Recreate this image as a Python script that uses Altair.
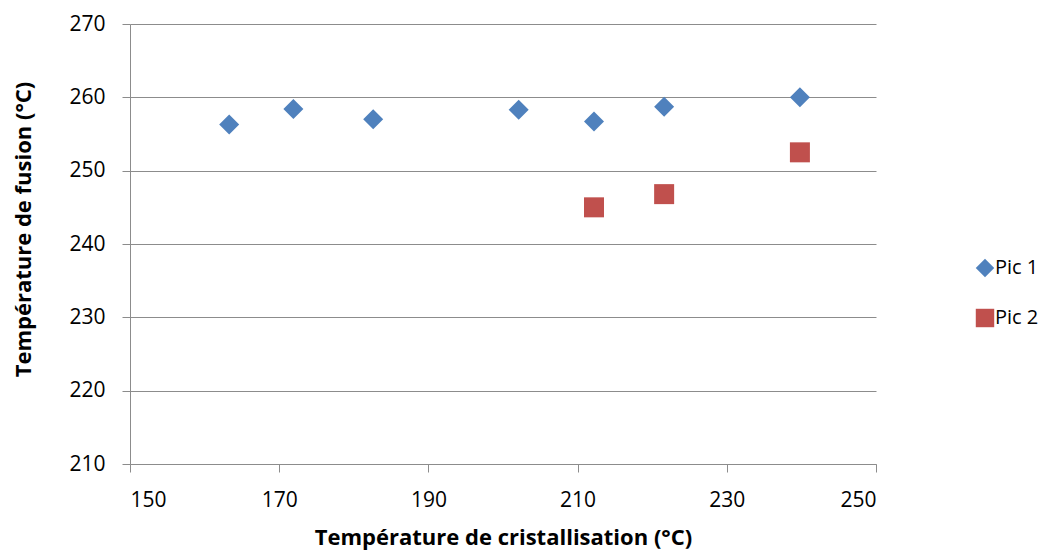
import altair as alt
import pandas as pd

series_names = ["Pic 1", "Pic 2"]
pic1_x = [163.3, 171.9, 182.6, 202.1, 212.2, 221.6, 239.8]
pic1_y = [256.3, 258.4, 257.0, 258.3, 256.7, 258.7, 260.0]
pic2_x = [212.2, 221.6, 239.8]
pic2_y = [245.0, 246.8, 252.5]
x_ticks = [150, 170, 190, 210, 230, 250]
y_ticks = [210, 220, 230, 240, 250, 260, 270]

rows = [{"x": a, "y": b, "s": series_names[0]} for a, b in zip(pic1_x, pic1_y)]
rows += [{"x": a, "y": b, "s": series_names[1]} for a, b in zip(pic2_x, pic2_y)]
df = pd.DataFrame(rows)

FONT = "Open Sans"
GRID = "#8c8c8c"

chart = alt.Chart(df).mark_point(filled=True, size=400, opacity=1).encode(
    x=alt.X("x:Q", scale=alt.Scale(domain=[150, 250], nice=False, zero=False),
            axis=alt.Axis(values=x_ticks, title="Température de cristallisation (°C)",
                          grid=False, domainColor=GRID, tickColor=GRID, tickSize=8,
                          labelFont=FONT, labelFontSize=21, labelColor="#000000",
                          labelPadding=17, titleFont=FONT, titleFontSize=22,
                          titleFontWeight="bold", titleColor="#000000", titlePadding=17)),
    y=alt.Y("y:Q", scale=alt.Scale(domain=[210, 270], nice=False, zero=False),
            axis=alt.Axis(values=y_ticks, title="Température de fusion (°C)",
                          grid=True, gridColor=GRID, domainColor=GRID, tickColor=GRID,
                          tickSize=8, labelFont=FONT, labelFontSize=21,
                          labelColor="#000000", labelPadding=17, titleFont=FONT,
                          titleFontSize=22, titleFontWeight="bold",
                          titleColor="#000000", titlePadding=33, titleY=205)),
    color=alt.Color("s:N", scale=alt.Scale(domain=series_names, range=["#4F81BD", "#C0504D"]),
                    legend=alt.Legend(title=None, orient="none", legendX=845, legendY=234,
                                      labelFont=FONT, labelFontSize=20, labelColor="#000000",
                                      symbolSize=340, rowPadding=30, labelOffset=0,
                                      symbolStrokeWidth=0)),
    shape=alt.Shape("s:N", scale=alt.Scale(domain=series_names, range=["diamond", "square"]),
                    legend=None),
).properties(
    width=746, height=440,
    autosize=alt.AutoSizeParams(type="none"),
    padding={"left": 122, "top": 16, "right": 168, "bottom": 90},
).configure_view(stroke=None)

chart.save("out.html", embed_options={"renderer": "svg", "actions": False})
